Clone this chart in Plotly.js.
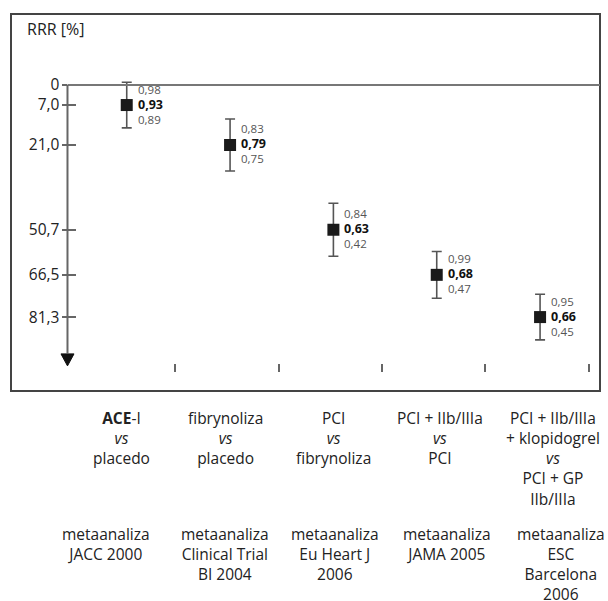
<!DOCTYPE html>
<html>
<head>
<meta charset="utf-8">
<script src="https://cdn.plot.ly/plotly-3.0.1.min.js"></script>
<style>html,body{margin:0;padding:0;background:#fff;}#chart{width:608px;height:601px;}</style>
</head>
<body>
<div id="chart"></div>
<script>
// ---- data ----
var comparisons = [
  "<b>ACE</b>-I<br><i>vs</i><br>placedo",
  "fibrynoliza<br><i>vs</i><br>placedo",
  "PCI<br><i>vs</i><br>fibrynoliza",
  "PCI + IIb/IIIa<br><i>vs</i><br>PCI",
  "PCI + IIb/IIIa<br>+ klopidogrel<br><i>vs</i><br>PCI + GP<br>IIb/IIIa"
];
var sources = [
  "metaanaliza<br>JACC 2000",
  "metaanaliza<br>Clinical Trial<br>BI 2004",
  "metaanaliza<br>Eu Heart J<br>2006",
  "metaanaliza<br>JAMA 2005",
  "metaanaliza<br>ESC<br>Barcelona<br>2006"
];
var rrr = [7.0, 21.0, 50.7, 66.5, 81.3];          // RRR [%]
var rrrErr = [8.0, 9.1, 9.3, 8.2, 8.0];           // half-length of whisker, RRR units
var rr = [0.93, 0.79, 0.63, 0.68, 0.66];
var rrUpper = [0.98, 0.83, 0.84, 0.99, 0.95];
var rrLower = [0.89, 0.75, 0.42, 0.47, 0.45];
var yTickVals = [0, 7.0, 21.0, 50.7, 66.5, 81.3];
var yTickText = ["0", "7,0", "21,0", "50,7", "66,5", "81,3"];
var yAxisTitle = "RRR [%]";

// ---- layout helpers (styling only) ----
var FONT = "Open Sans, DejaVu Sans, sans-serif";
var xPos = rrr.map(function(_, i){ return i; });
var fmt = function(v){ return v.toFixed(2).replace('.', ','); };
var blockShift1 = [-5, -5, 0, 3, 13];
var blockShift2 = [-21, -5, 2, 10, 21];
var yAxisPaperX = 0.0959;

var trace = {
  type: 'scatter', mode: 'markers',
  x: xPos, y: rrr,
  marker: {symbol: 'square', size: 12, color: '#1a1a1a'},
  error_y: {type: 'data', array: rrrErr, visible: true, color: '#555', thickness: 1.6, width: 5},
  hoverinfo: 'none', showlegend: false
};
var dummy = {type:'scatter', x:[xPos[0]], y:[rrr[0]], yaxis:'y2', mode:'markers', marker:{opacity:0}, hoverinfo:'none', showlegend:false};

var annotations = [];
xPos.forEach(function(x, i){
  annotations.push({x: x, y: rrr[i], xref:'x', yref:'y', showarrow:false,
    text: '<span style="color:#555">' + fmt(rrUpper[i]) + '</span><br>' +
          '<b><span style="color:#111;font-size:12.5px">' + fmt(rr[i]) + '</span></b><br>' +
          '<span style="color:#555">' + fmt(rrLower[i]) + '</span>',
    xanchor:'left', yanchor:'middle', xshift: 9, yshift: 1, align:'left',
    font:{family:FONT, size:11.5, color:'#555'}});
  annotations.push({x: x, y: 0, xref:'x', yref:'paper', text: comparisons[i], showarrow:false,
    xanchor:'center', yanchor:'top', xshift: blockShift1[i], yshift: -14, align:'center',
    font:{family:FONT, size:15.5, color:'#222'}});
  annotations.push({x: x, y: 0, xref:'x', yref:'paper', text: sources[i], showarrow:false,
    xanchor:'center', yanchor:'top', xshift: blockShift2[i], yshift: -130, align:'center',
    font:{family:FONT, size:15.5, color:'#222'}});
});
annotations.push({x: 0.024, y: 0.96, xref:'paper', yref:'paper', text: yAxisTitle, showarrow:false,
  xanchor:'left', yanchor:'middle', font:{family:FONT, size:16, color:'#222'}});

var layout = {
  width: 608, height: 601,
  margin: {l: 11, r: 8, t: 14, b: 210, pad: 0},
  paper_bgcolor: '#fff', plot_bgcolor: '#fff',
  font: {family: FONT, color: '#222'},
  xaxis: {range: [-1.12, 4.58], showgrid:false, zeroline:false, showline:false,
    tickmode:'array', tickvals: xPos.map(function(v){return v + 0.47;}), ticktext: xPos.map(function(){return '';}),
    ticks:'inside', ticklen: 8, tickwidth: 2, tickcolor:'#666',
    anchor:'free', position: 0.05, fixedrange:true},
  yaxis: {range: [107.2, -24.9], showgrid:false, zeroline:false, showline:false,
    tickmode:'array', tickvals: yTickVals, ticktext: yTickText,
    ticks:'outside', ticklen: 5, tickwidth: 2, tickcolor:'#666',
    tickfont:{family:FONT, size:15.5, color:'#222'},
    anchor:'free', position: yAxisPaperX, fixedrange:true},
  yaxis2: {range: [107.2, -24.9], overlaying:'y', showgrid:false, zeroline:false, showline:false,
    tickmode:'array', tickvals: yTickVals, showticklabels:false,
    ticks:'inside', ticklen: 8, tickwidth: 2, tickcolor:'#666',
    anchor:'free', position: yAxisPaperX, side:'left', fixedrange:true},
  shapes: [
    {type:'rect', xref:'paper', yref:'paper', x0:0, x1:1, y0:0, y1:1, line:{color:'#444', width:2}},
    {type:'line', xref:'paper', yref:'y', x0:yAxisPaperX, x1:1, y0:0, y1:0, line:{color:'#777', width:2}},
    {type:'line', xref:'paper', yref:'y', x0:yAxisPaperX, x1:yAxisPaperX, y0:0, y1:94, line:{color:'#666', width:2}},
    {type:'path', xref:'paper', yref:'y', xsizemode:'pixel', ysizemode:'pixel',
      xanchor: yAxisPaperX, yanchor: 98.4, path:'M -6.5 12 L 6.5 12 L 0 0 Z',
      fillcolor:'#111', line:{color:'#111', width:1}}
  ],
  annotations: annotations,
  showlegend: false
};

Plotly.newPlot('chart', [trace, dummy], layout, {staticPlot: true, displayModeBar: false});
</script>
</body>
</html>
